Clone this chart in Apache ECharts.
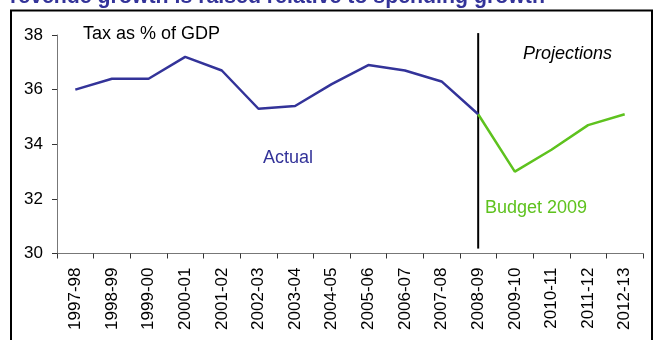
<!DOCTYPE html>
<html>
<head>
<meta charset="utf-8">
<script src="https://cdn.jsdelivr.net/npm/echarts@6/dist/echarts.min.js"></script>
<style>html,body{margin:0;padding:0;background:#fff;}#c{width:660px;height:340px;}</style>
</head>
<body>
<div id="c"></div>
<script>
const categories = ['1997-98','1998-99','1999-00','2000-01','2001-02','2002-03','2003-04','2004-05','2005-06','2006-07','2007-08','2008-09','2009-10','2010-11','2011-12','2012-13'];
const actual = [36.0, 36.4, 36.4, 37.2, 36.7, 35.3, 35.4, 36.2, 36.9, 36.7, 36.3, 35.1];
const budget2009 = [35.1, 33.0, 33.8, 34.7, 35.1];
const budgetStart = '2008-09';
const dividerRange = [38.07, 30.18];
const yTicks = [30, 32, 34, 36, 38];

const startIdx = categories.indexOf(budgetStart);
const actualSeries = categories.map((c, i) => i < actual.length ? actual[i] : null);
const budgetSeries = categories.map((c, i) => (i >= startIdx && i - startIdx < budget2009.length) ? budget2009[i - startIdx] : null);

const FONT = '"Liberation Sans", Arial, sans-serif';
const BLUE = '#333399';
const GREEN = '#5ec21e';

const chart = echarts.init(document.getElementById('c'), null, {renderer: 'canvas'});
chart.setOption({
  animation: false,
  backgroundColor: '#fff',
  grid: {left: 57, right: 17, top: 35, bottom: 86.5, outerBoundsMode: 'none'},
  xAxis: {
    type: 'category',
    data: categories,
    boundaryGap: true,
    axisLine: {lineStyle: {color: '#777', width: 1}},
    axisTick: {show: true, length: 5, alignWithLabel: false, interval: 0, lineStyle: {color: '#333'}},
    axisLabel: {interval: 0, rotate: 90, margin: 14, fontSize: 17, color: '#000', fontFamily: FONT}
  },
  yAxis: {
    type: 'value',
    min: yTicks[0],
    max: yTicks[yTicks.length - 1],
    interval: 2,
    splitLine: {show: false},
    axisLine: {show: true, lineStyle: {color: '#777', width: 1}},
    axisTick: {show: true, length: 5, lineStyle: {color: '#333'}},
    axisLabel: {margin: 14, fontSize: 17, color: '#000', fontFamily: FONT}
  },
  series: [
    {
      name: 'Divider',
      type: 'line',
      data: [[budgetStart, dividerRange[0]], [budgetStart, dividerRange[1]]],
      symbol: 'none',
      clip: false,
      silent: true,
      z: 1,
      lineStyle: {color: '#000', width: 2}
    },
    {
      name: 'Actual',
      type: 'line',
      data: actualSeries,
      symbol: 'none',
      z: 3,
      lineStyle: {color: BLUE, width: 2.5}
    },
    {
      name: 'Budget 2009',
      type: 'line',
      data: budgetSeries,
      symbol: 'none',
      z: 3,
      lineStyle: {color: GREEN, width: 2.5}
    }
  ],
  graphic: [
    {type: 'rect', shape: {x: 11, y: 10.5, width: 641, height: 345}, style: {fill: 'none', stroke: '#000', lineWidth: 2}, z: 10},
    {type: 'text', x: 10, y: -3, style: {text: 'revenue growth is raised relative to spending growth', font: 'bold 21.3px ' + FONT, fill: '#333399', verticalAlign: 'middle'}},
    {type: 'text', x: 83, y: 34, style: {text: 'Tax as % of GDP', font: '18px ' + FONT, fill: '#000', verticalAlign: 'middle'}},
    {type: 'text', x: 523, y: 54, style: {text: 'Projections', font: 'italic 18px ' + FONT, fill: '#000', verticalAlign: 'middle'}},
    {type: 'text', x: 263, y: 158, style: {text: 'Actual', font: '18px ' + FONT, fill: BLUE, verticalAlign: 'middle'}},
    {type: 'text', x: 485, y: 208, style: {text: 'Budget 2009', font: '18px ' + FONT, fill: GREEN, verticalAlign: 'middle'}}
  ]
});
</script>
</body>
</html>
